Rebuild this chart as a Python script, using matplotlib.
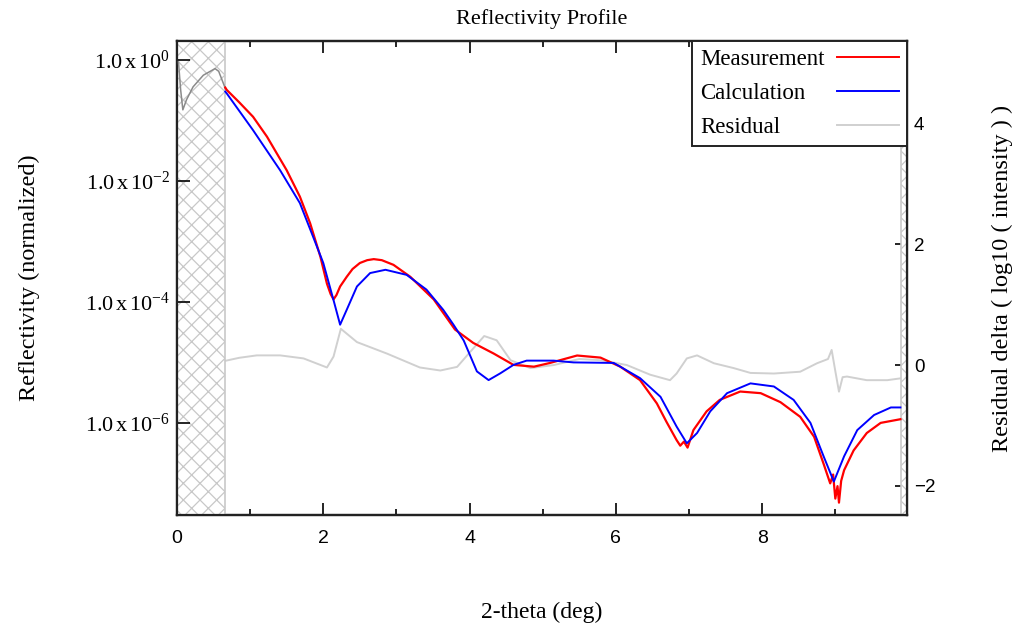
import math
import matplotlib
matplotlib.use("Agg")
import matplotlib.pyplot as plt
from matplotlib.ticker import FixedLocator, FuncFormatter, MultipleLocator, NullLocator

SERIF = 'Liberation Serif'
SANS = 'Liberation Sans'
plt.rcParams['font.family'] = [SERIF, 'DejaVu Serif']
plt.rcParams['mathtext.fontset'] = 'custom'
plt.rcParams['mathtext.rm'] = SERIF
plt.rcParams['mathtext.it'] = SERIF + ':italic'
plt.rcParams['hatch.linewidth'] = 0.9

# ---------------- data ----------------
# measured reflectivity inside excluded low-angle region (grey)
excl_x = [0.02, 0.05, 0.08, 0.13, 0.22, 0.36, 0.52, 0.57, 0.66]
excl_y = [9.3e-1, 3.2e-1, 1.5e-1, 2.2e-1, 3.6e-1, 5.6e-1, 7.2e-1, 6.5e-1, 3.4e-1]

# measurement (red)
meas_x = [0.66, 0.68, 0.85, 1.04, 1.23, 1.50, 1.68, 1.82, 1.96, 2.05, 2.10, 2.14,
          2.18, 2.23, 2.32, 2.40, 2.50, 2.60, 2.69, 2.80, 2.96, 3.19, 3.51, 3.80,
          4.05, 4.33, 4.60, 4.88, 5.10, 5.47, 5.79, 6.06, 6.33, 6.56, 6.69, 6.83,
          6.88, 6.93, 6.98, 7.06, 7.24, 7.42, 7.70, 7.98, 8.25, 8.52, 8.71, 8.84,
          8.93, 8.97, 9.00, 9.03, 9.05, 9.08, 9.12, 9.25, 9.43, 9.62, 9.89]
meas_y = [3.5e-1, 3.2e-1, 2.0e-1, 1.15e-1, 5.4e-2, 1.5e-2, 5.5e-3, 2.0e-3, 5.6e-4,
          2.0e-4, 1.35e-4, 1.1e-4, 1.3e-4, 1.8e-4, 2.6e-4, 3.5e-4, 4.4e-4, 4.9e-4,
          5.1e-4, 4.9e-4, 4.1e-4, 2.6e-4, 1.1e-4, 3.5e-5, 2.1e-5, 1.4e-5, 9.1e-6,
          8.5e-6, 9.8e-6, 1.3e-5, 1.2e-5, 8.5e-6, 5.1e-6, 2.1e-6, 1.05e-6, 5.2e-7,
          4.2e-7, 4.9e-7, 3.9e-7, 7.6e-7, 1.55e-6, 2.4e-6, 3.3e-6, 3.1e-6, 2.2e-6,
          1.26e-6, 5.9e-7, 2.1e-7, 1.0e-7, 1.4e-7, 5.6e-8, 9.0e-8, 4.8e-8, 1.1e-7,
          1.65e-7, 3.5e-7, 6.8e-7, 1.0e-6, 1.15e-6]

# calculation (blue)
calc_x = [0.66, 0.68, 1.04, 1.41, 1.68, 1.86, 2.00, 2.14, 2.23, 2.32, 2.46, 2.64,
          2.85, 3.14, 3.41, 3.64, 3.78, 3.92, 4.10, 4.26, 4.42, 4.60, 4.78, 5.15,
          5.42, 5.97, 6.06, 6.33, 6.61, 6.83, 6.97, 7.11, 7.29, 7.52, 7.84, 8.16,
          8.43, 8.66, 8.84, 8.98, 9.12, 9.30, 9.53, 9.76, 9.89]
calc_y = [3.0e-1, 2.8e-1, 6.9e-2, 1.5e-2, 4.3e-3, 1.2e-3, 4.4e-4, 1.07e-4, 4.2e-5,
          7.4e-5, 1.8e-4, 3.0e-4, 3.4e-4, 2.8e-4, 1.6e-4, 7.4e-5, 4.2e-5, 2.3e-5,
          7.1e-6, 5.1e-6, 6.6e-6, 9.1e-6, 1.07e-5, 1.07e-5, 1.0e-5, 9.8e-6, 8.5e-6,
          5.5e-6, 2.7e-6, 8.7e-7, 4.6e-7, 6.8e-7, 1.55e-6, 3.1e-6, 4.5e-6, 4.0e-6,
          2.4e-6, 1.0e-6, 2.8e-7, 1.07e-7, 2.8e-7, 7.6e-7, 1.35e-6, 1.8e-6, 1.8e-6]

# residual delta, log10(intensity) (light grey, right axis)
res_x = [0.66, 0.85, 1.09, 1.41, 1.73, 2.05, 2.14, 2.24, 2.46, 2.87, 3.32, 3.60,
         3.83, 4.01, 4.20, 4.37, 4.56, 4.83, 5.15, 5.50, 5.80, 6.15, 6.47, 6.74,
         6.83, 6.97, 7.11, 7.34, 7.61, 7.84, 8.16, 8.52, 8.75, 8.90, 8.95, 9.00,
         9.05, 9.10, 9.16, 9.43, 9.71, 9.89]
res_y = [0.07, 0.12, 0.16, 0.16, 0.11, -0.04, 0.14, 0.60, 0.38, 0.19, -0.04, -0.09,
         -0.03, 0.22, 0.48, 0.41, 0.08, -0.05, 0.00, 0.10, 0.08, 0.00, -0.16, -0.25,
         -0.14, 0.11, 0.16, 0.03, -0.05, -0.13, -0.14, -0.11, 0.03, 0.10, 0.25, -0.10,
         -0.44, -0.20, -0.19, -0.25, -0.25, -0.22]

excluded_regions = [(0.0, 0.657), (9.90, 9.98)]
left_ticks = [1e0, 1e-2, 1e-4, 1e-6]
right_ticks = [-2, 0, 2, 4]
legend_labels = ["Measurement", "Calculation", "Residual"]

# ---------------- figure ----------------
fig = plt.figure(figsize=(10.16, 6.30), dpi=100)
ax = fig.add_axes([177/1016, 1 - 515/630, 730/1016, 474/630])
ax2 = ax.twinx()
ax.set_zorder(ax2.get_zorder() + 1)
ax.patch.set_visible(False)

for x0, x1 in excluded_regions:
    ax.axvspan(x0, x1, facecolor='white', edgecolor='#c8c8c8', hatch='xx',
               linewidth=1.2, zorder=1)

ax.plot(excl_x, excl_y, color='#8a8a8a', lw=1.1, zorder=3)
l_meas, = ax.plot(meas_x, meas_y, color='#ff0000', lw=1.6, zorder=4)
l_calc, = ax.plot(calc_x, calc_y, color='#0000ff', lw=1.4, zorder=5)
l_res, = ax2.plot(res_x, res_y, color='#d0d0d0', lw=1.4)

ax.set_yscale('log')
ax.set_xlim(0, 9.98)
ax.set_ylim(3.0e-8, 2.06)
ax2.set_ylim(-2.48, 5.36)

# x ticks
ax.xaxis.set_major_locator(MultipleLocator(2))
ax.xaxis.set_minor_locator(MultipleLocator(1))
ax.tick_params(axis='x', which='major', direction='in', length=8.5, width=1.2,
               top=True, bottom=True, pad=11, labelsize=14)
ax.tick_params(axis='x', which='minor', direction='in', length=4.5, width=1.2,
               top=True, bottom=True)
for t in ax.get_xticklabels():
    t.set_fontfamily(SANS)

# left y ticks
ax.yaxis.set_major_locator(FixedLocator(left_ticks))
ax.yaxis.set_minor_locator(NullLocator())
def fmt(v, pos):
    e = int(round(math.log10(v)))
    return r'$\mathregular{1.0\,x\,10^{%d}}$' % e
ax.yaxis.set_major_formatter(FuncFormatter(fmt))
ax.tick_params(axis='y', which='major', direction='in', length=9, width=1.2,
               left=True, right=False, pad=5, labelsize=16)
for t in ax.get_yticklabels():
    t.set_fontfamily(SERIF)

# right y ticks
ax2.yaxis.set_major_locator(FixedLocator(right_ticks))
ax2.yaxis.set_minor_locator(NullLocator())
ax2.tick_params(axis='y', direction='in', length=9, width=1.2, pad=5, labelsize=13.5)
for t in ax2.get_yticklabels():
    t.set_fontfamily(SANS)

for a in (ax, ax2):
    for s in a.spines.values():
        s.set_linewidth(1.6)
        s.set_color('#222222')

# labels
ax.set_title("Reflectivity Profile", fontfamily=SERIF, fontsize=16, pad=12)
ax.set_xlabel("2-theta (deg)", fontfamily=SERIF, fontsize=17)
ax.xaxis.set_label_coords(0.5, -0.184)
ax.set_ylabel("Reflectivity (normalized)", fontfamily=SERIF, fontsize=17.5)
ax.yaxis.set_label_coords(-0.188, 0.5)
ax2.set_ylabel("Residual delta ( log10 ( intensity ) )", fontfamily=SERIF, fontsize=17.5)
ax2.yaxis.set_label_coords(1.116, 0.5)

FS = 16.5
leg = ax.legend([l_meas, l_calc, l_res], legend_labels, loc='upper right',
                bbox_to_anchor=(1.0, 1.0), borderaxespad=0.0, markerfirst=False,
                fancybox=False, framealpha=1, edgecolor='#222222',
                prop={'family': SERIF, 'size': FS}, handlelength=2.7,
                handletextpad=0.52, labelspacing=0.55, borderpad=0.36)
leg.get_frame().set_linewidth(1.4)
for h in leg.legend_handles:
    h.set_linewidth(1.4)

# left-align legend texts while keeping the line samples in one column on the right
fig.canvas.draw()
rend = fig.canvas.get_renderer()
widths = [t.get_window_extent(rend).width for t in leg.get_texts()]
maxw = max(widths)
col = leg._legend_handle_box.get_children()[0]
col.align = 'left'
for hp, w in zip(col.get_children(), widths):
    hp.sep = hp.sep + (maxw - w) * 72.0 / fig.dpi

fig.savefig("out.png", dpi=100)
